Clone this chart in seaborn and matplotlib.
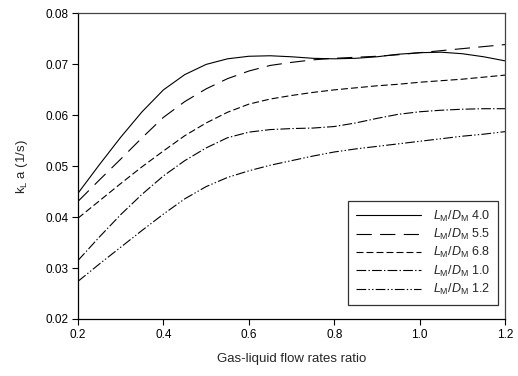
import numpy as np
import pandas as pd
import matplotlib
matplotlib.use("Agg")
import matplotlib.pyplot as plt
import seaborn as sns

# ---- data ----
x_ratio = [0.2, 0.25, 0.3, 0.35, 0.4, 0.45, 0.5, 0.55, 0.6, 0.65, 0.7,
           0.75, 0.8, 0.85, 0.9, 0.95, 1.0, 1.05, 1.1, 1.15, 1.2]
kla_40 = [0.0447, 0.0503, 0.0557, 0.0607, 0.0650, 0.0680, 0.0700, 0.0711, 0.0716, 0.0717, 0.0715,
          0.0712, 0.0711, 0.0712, 0.0715, 0.0720, 0.0723, 0.0724, 0.0721, 0.0715, 0.0707]
kla_55 = [0.0431, 0.0473, 0.0514, 0.0556, 0.0596, 0.0627, 0.0652, 0.0672, 0.0687, 0.0698, 0.0704,
          0.0709, 0.0712, 0.0714, 0.0716, 0.0719, 0.0723, 0.0727, 0.0731, 0.0735, 0.0739]
kla_68 = [0.0398, 0.0432, 0.0466, 0.0499, 0.0530, 0.0560, 0.0585, 0.0606, 0.0622, 0.0632, 0.0639,
          0.0645, 0.0650, 0.0654, 0.0658, 0.0661, 0.0665, 0.0668, 0.0671, 0.0675, 0.0679]
kla_10 = [0.0315, 0.0361, 0.0405, 0.0445, 0.0481, 0.0511, 0.0536, 0.0556, 0.0567, 0.0572, 0.0574,
          0.0575, 0.0578, 0.0585, 0.0594, 0.0602, 0.0607, 0.0610, 0.0612, 0.0613, 0.0613]
kla_12 = [0.0274, 0.0308, 0.0341, 0.0374, 0.0406, 0.0436, 0.0460, 0.0478, 0.0491, 0.0502, 0.0511,
          0.0520, 0.0528, 0.0534, 0.0539, 0.0544, 0.0549, 0.0554, 0.0559, 0.0563, 0.0568]
series_labels = [r"$L_\mathrm{M}/D_\mathrm{M}$ 4.0", r"$L_\mathrm{M}/D_\mathrm{M}$ 5.5",
                 r"$L_\mathrm{M}/D_\mathrm{M}$ 6.8", r"$L_\mathrm{M}/D_\mathrm{M}$ 1.0",
                 r"$L_\mathrm{M}/D_\mathrm{M}$ 1.2"]
x_ticks = [0.2, 0.4, 0.6, 0.8, 1.0, 1.2]
y_ticks = [0.02, 0.03, 0.04, 0.05, 0.06, 0.07, 0.08]

frames = []
for lab, vals in zip(series_labels, [kla_40, kla_55, kla_68, kla_10, kla_12]):
    frames.append(pd.DataFrame({"x": x_ratio, "y": vals, "series": lab}))
df = pd.concat(frames, ignore_index=True)

sns.set_theme(style="ticks")
plt.rcParams["font.family"] = ["Liberation Sans", "DejaVu Sans"]
plt.rcParams["mathtext.fontset"] = "custom"
plt.rcParams["mathtext.rm"] = "Liberation Sans"
plt.rcParams["mathtext.it"] = "Liberation Sans:italic"
plt.rcParams["lines.scale_dashes"] = False

fig = plt.figure(figsize=(5.18, 3.76), dpi=100)
ax = fig.add_axes([0.1506, 0.1516, 0.8244, 0.8125])

dash_map = {
    series_labels[0]: "",
    series_labels[1]: (11, 6),
    series_labels[2]: (5, 2.2),
    series_labels[3]: (7, 1.6, 1, 1.6),
    series_labels[4]: (7, 1.6, 1, 1.6, 1, 1.6),
}
sns.lineplot(data=df, x="x", y="y", style="series", dashes=dash_map,
             color="black", linewidth=0.8, estimator=None, sort=False, ax=ax)

ax.set_xlim(0.2, 1.2)
ax.set_ylim(0.02, 0.08)
ax.set_xticks(x_ticks)
ax.set_xticklabels([f"{v:.1f}" for v in x_ticks])
ax.set_yticks(y_ticks)
ax.set_yticklabels([f"{v:.2f}" for v in y_ticks])
ax.tick_params(axis="both", labelsize=8.5, length=4, width=0.8, direction="out",
               color="black", labelcolor="black", pad=3)
for s in ["left", "bottom"]:
    ax.spines[s].set_color("black")
    ax.spines[s].set_linewidth(0.9)
for s in ["top", "right"]:
    ax.spines[s].set_visible(True)
    ax.spines[s].set_color("#444444")
    ax.spines[s].set_linewidth(0.9)

ax.set_xlabel("Gas-liquid flow rates ratio", fontsize=9.5, labelpad=9)
ax.set_ylabel(r"k$_\mathrm{L}$ a (1/s)", fontsize=9.5, labelpad=11)

handles, labels = ax.get_legend_handles_labels()
leg = ax.legend(handles, labels, loc="lower right", bbox_to_anchor=(0.984, 0.045),
                fontsize=9, frameon=True, fancybox=False, edgecolor="black",
                handlelength=5.2, handletextpad=0.95, labelspacing=0.26,
                borderpad=0.65, borderaxespad=0.0)
leg.get_frame().set_linewidth(0.9)
for lh in leg.get_lines():
    lh.set_linewidth(0.8)

fig.savefig("out.png", dpi=100)
